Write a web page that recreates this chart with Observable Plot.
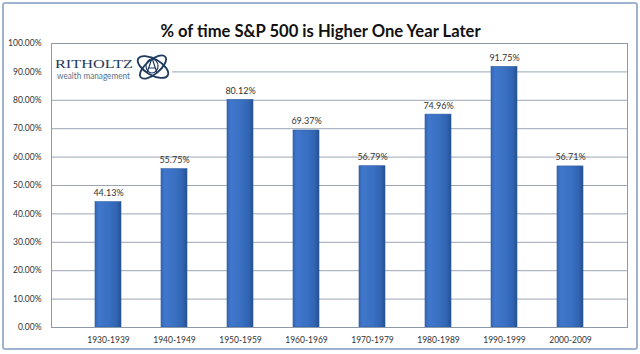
<!DOCTYPE html>
<html>
<head>
<meta charset="utf-8">
<script src="https://cdn.jsdelivr.net/npm/d3@7"></script>
<script src="https://cdn.jsdelivr.net/npm/@observablehq/plot@0.6"></script>
<style>
  html, body { margin: 0; padding: 0; background: #fff; }
  #wrap { position: relative; width: 640px; height: 354px; overflow: hidden; }
  #border { position: absolute; left: 2px; top: 2px; width: 632px; height: 344px;
            border: 2px solid #9fb3cf; border-radius: 3px; pointer-events: none; }
  svg { display: block; }
</style>
</head>
<body>
<div id="wrap"><div id="border"></div></div>
<script>
const decades = ["1930-1939","1940-1949","1950-1959","1960-1969","1970-1979","1980-1989","1990-1999","2000-2009"];
const pctHigher = [0.4413, 0.5575, 0.8012, 0.6937, 0.5679, 0.7496, 0.9175, 0.5671];
const yTicks = [0,0.1,0.2,0.3,0.4,0.5,0.6,0.7,0.8,0.9,1.0];
const titleText = "% of time S&P 500 is Higher One Year Later";

const data = decades.map((d, i) => ({decade: d, value: pctHigher[i]}));
const fmt = d3.format(".2%");

const chart = Plot.plot({
  width: 640,
  height: 354,
  marginTop: 43,
  marginBottom: 27,
  marginLeft: 51,
  marginRight: 13,
  style: {fontFamily: "Lato, 'Open Sans', sans-serif", fontSize: "8.5px", color: "#333", background: "transparent"},
  x: {domain: decades, padding: 0.6, label: null, tickSize: 0, tickPadding: 9},
  y: {domain: [0, 1], ticks: yTicks, tickFormat: fmt, label: null, tickSize: 0, tickPadding: 10},
  marks: [
    Plot.gridY(yTicks, {stroke: "#9aa6b4", strokeOpacity: 1}),
    Plot.barY(data, {x: "decade", y: "value", fill: "url(#barGrad)", stroke: "#2c5a9e", strokeWidth: 0.6}),
    Plot.text(data, {x: "decade", y: "value", text: d => fmt(d.value), dy: -9, fill: "#333", fontSize: 9}),
    Plot.frame({stroke: "#8c99a8"}),
    Plot.text([titleText], {frameAnchor: "top", dx: -19, dy: -18, text: d => d, fontSize: 16.6, fontWeight: "bold", fill: "#111", fontFamily: "Lato, sans-serif"})
  ]
});

const svg = d3.select(chart);
const defs = svg.insert("defs", ":first-child");
const g = defs.append("linearGradient").attr("id", "barGrad").attr("x1", "0").attr("x2", "1").attr("y1", "0").attr("y2", "0");
g.append("stop").attr("offset", "0%").attr("stop-color", "#3566b8");
g.append("stop").attr("offset", "15%").attr("stop-color", "#4077cc");
g.append("stop").attr("offset", "55%").attr("stop-color", "#3a70c2");
g.append("stop").attr("offset", "85%").attr("stop-color", "#3163b0");
g.append("stop").attr("offset", "100%").attr("stop-color", "#24508f");

// Logo block (covers grid at top-left)
const logo = svg.append("g").attr("text-anchor", "start");
logo.append("rect").attr("x", 52).attr("y", 44).attr("width", 120).attr("height", 42).attr("fill", "#fff");
logo.append("text").attr("x", 55).attr("y", 67.5).attr("font-family", "'Liberation Serif', 'DejaVu Serif', serif")
  .attr("font-size", 13.5).attr("fill", "#1f3a5e").attr("textLength", 78).attr("lengthAdjust", "spacingAndGlyphs").text("RITHOLTZ");
logo.append("text").attr("x", 57).attr("y", 78.5).attr("font-family", "Lato, sans-serif")
  .attr("font-size", 8.5).attr("fill", "#5a7290").attr("textLength", 73).attr("lengthAdjust", "spacingAndGlyphs").text("wealth management");
const em = logo.append("g").attr("fill", "none").attr("stroke", "#1f3a5e").attr("stroke-width", 1.8);
em.append("ellipse").attr("cx", 153).attr("cy", 67).attr("rx", 17).attr("ry", 8).attr("transform", "rotate(30 153 67)");
em.append("ellipse").attr("cx", 153).attr("cy", 67).attr("rx", 16).attr("ry", 7).attr("transform", "rotate(-40 153 67)");
em.append("ellipse").attr("cx", 152).attr("cy", 66).attr("rx", 6).attr("ry", 7).attr("stroke-width", 1.2);
em.append("path").attr("d", "M147 73 L152 58 L157 73 M149 68 L155 68").attr("stroke-width", 1.2);

document.getElementById("wrap").prepend(chart);
</script>
</body>
</html>
